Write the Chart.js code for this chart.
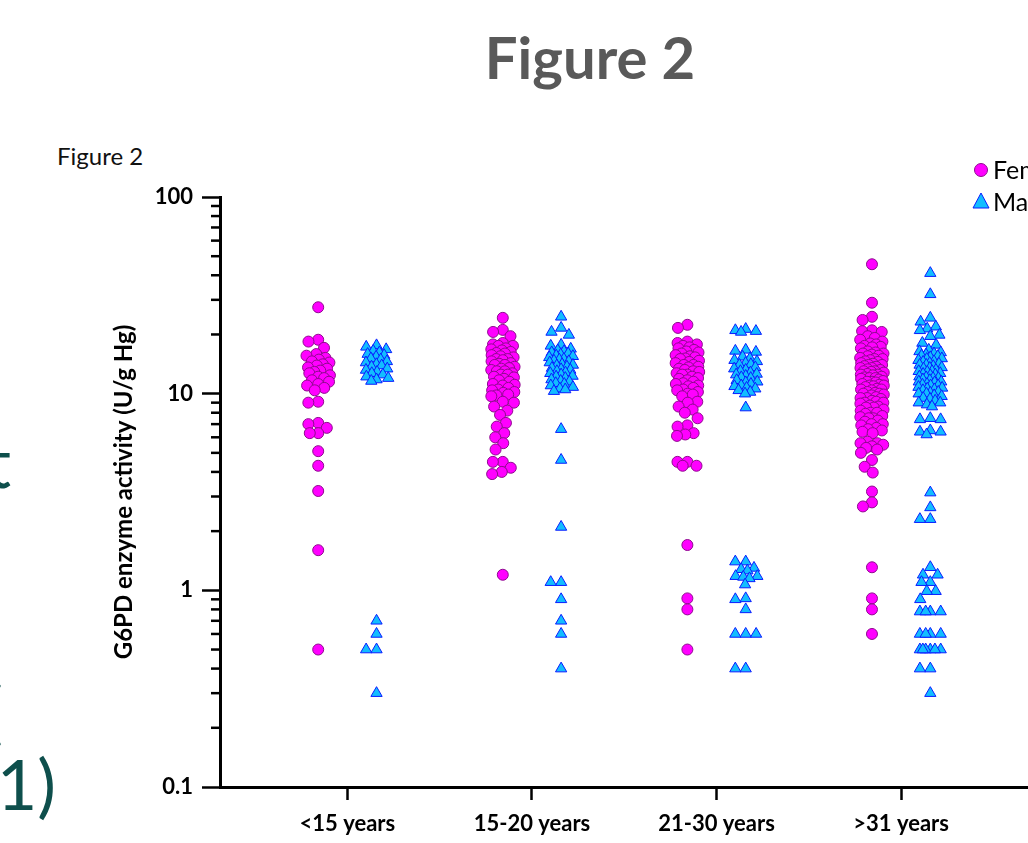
<!DOCTYPE html>
<html>
<head>
<meta charset="utf-8">
<script src="https://cdn.jsdelivr.net/npm/chart.js@4.4.1/dist/chart.umd.min.js"></script>
<style>
  html, body { margin: 0; padding: 0; overflow: hidden; background: #fff; }
  body { width: 1028px; height: 843px; position: relative; font-family: Lato, "Open Sans", sans-serif; }
  #bigTitle { position: absolute; left: 0; width: 1180px; top: 22px; text-align: center; font-size: 58px; font-weight: bold; color: #595959; }
  #smallTitle { position: absolute; left: 57px; top: 141px; font-size: 24px; color: #111; }
  .slideText { position: absolute; font-size: 70px; color: #0e4f4c; white-space: nowrap; text-align: right; line-height: 1; }
  #chartCanvas { position: absolute; left: 110px; top: 0; }
</style>
</head>
<body>
<div id="bigTitle">Figure 2</div>
<div id="smallTitle">Figure 2</div>
<div class="slideText" style="right:1017px; top:426px;">significant</div>
<div class="slideText" style="right:1025px; top:675px;">(</div>
<div class="slideText" style="right:972px; top:748px;">(p&lt;0.001)</div>
<canvas id="chartCanvas" width="950" height="843"></canvas>
<script>
// categories and values (U/g Hb, log axis)
const categories = ['<15 years', '15-20 years', '21-30 years', '>31 years'];
const yTickLabels = [0.1, 1, 10, 100];

const femaleUnder15 = [27.5, 18.8, 18.4, 17.1, 15.9, 15.6, 15.2, 14.9, 14.6, 14.4, 14.1, 13.9, 13.6, 13.4, 13.1, 12.9,
  12.7, 12.4, 12.2, 12.0, 11.7, 11.5, 11.2, 11.0, 10.7, 10.4, 9.1, 9.0, 7.1, 7.0, 6.7, 6.3, 6.3, 5.1, 4.3, 3.2, 1.6, 0.5];
const maleUnder15 = [17.6, 17.3, 16.8, 16.5, 16.2, 15.9, 15.7, 15.4, 15.1, 14.9, 14.6, 14.4, 14.1, 13.9, 13.7, 13.4,
  13.2, 12.9, 12.7, 12.5, 12.2, 12.0, 11.8, 11.6, 0.7, 0.6, 0.5, 0.5, 0.3];

const female15to20 = [24.3, 21.1, 20.6, 19.6, 18.1, 17.8, 17.5, 17.5, 17.0, 16.8, 16.6, 16.3, 16.1, 16.0, 15.7, 15.5,
  15.3, 15.0, 15.0, 14.8, 14.6, 14.3, 14.2, 14.0, 14.0, 13.7, 13.5, 13.4, 13.2, 13.0, 13.0, 12.7, 12.5, 12.5, 12.2, 12.1,
  11.9, 11.7, 11.5, 11.2, 11.1, 11.0, 10.7, 10.5, 10.4, 10.2, 10.1, 9.9, 9.8, 9.7, 9.1, 9.0, 8.6, 8.2, 7.8, 7.1, 6.8,
  6.3, 6.0, 5.6, 5.2, 4.5, 4.5, 4.2, 4.0, 3.9, 1.2];
const male15to20 = [24.6, 21.6, 20.6, 19.9, 17.7, 17.5, 16.9, 16.6, 16.4, 16.2, 16.0, 15.8, 15.6, 15.5, 15.3, 15.0,
  14.9, 14.7, 14.6, 14.4, 14.1, 14.0, 13.9, 13.7, 13.5, 13.3, 13.2, 13.0, 12.8, 12.7, 12.5, 12.3, 12.2, 12.0, 11.8,
  11.6, 11.5, 11.3, 11.2, 11.0, 10.8, 10.6, 10.5, 10.3, 6.6, 4.6, 2.1, 1.1, 1.1, 0.9, 0.7, 0.6, 0.4];

const female21to30 = [22.4, 21.6, 18.4, 18.1, 17.8, 17.5, 17.2, 17.0, 16.7, 16.4, 16.2, 16.0, 15.7, 15.5, 15.3, 15.1,
  15.0, 14.7, 14.5, 14.3, 14.0, 14.0, 13.7, 13.6, 13.4, 13.2, 13.0, 12.9, 12.7, 12.5, 12.5, 12.2, 12.0, 11.9, 11.7,
  11.5, 11.3, 11.2, 11.0, 10.9, 10.7, 10.5, 10.4, 10.2, 10.0, 9.9, 9.7, 9.1, 9.0, 8.6, 8.3, 8.0, 7.5, 6.9, 6.8, 6.3,
  6.2, 6.1, 4.5, 4.5, 4.3, 4.3, 1.7, 0.91, 0.8, 0.5];
const male21to30 = [21.3, 21.0, 20.8, 20.6, 16.7, 16.5, 16.3, 15.4, 15.1, 14.8, 14.6, 14.3, 14.1, 14.0, 13.6, 13.4,
  13.2, 13.0, 12.8, 12.6, 12.5, 12.3, 12.1, 12.0, 11.7, 11.5, 11.4, 11.2, 11.0, 10.9, 10.7, 10.6, 10.4, 10.2, 10.0,
  8.5, 1.4, 1.4, 1.3, 1.28, 1.26, 1.18, 1.18, 1.17, 1.15, 1.07, 0.91, 0.9, 0.8, 0.6, 0.6, 0.6, 0.4, 0.4];

const femaleOver31 = [45.5, 29.0, 24.6, 23.7, 21.0, 20.8, 20.6, 19.6, 19.2, 18.8, 18.4, 18.0, 17.8, 17.5, 17.3, 17.2,
  17.0, 16.4, 16.2, 16.0, 16.0, 15.8, 15.6, 15.5, 15.2, 15.0, 15.0, 14.8, 14.6, 14.5, 14.3, 14.2, 14.0, 14.0, 13.8,
  13.7, 13.5, 13.5, 13.3, 13.2, 13.0, 13.0, 12.9, 12.8, 12.6, 12.5, 12.5, 12.4, 12.2, 12.1, 12.0, 12.0, 11.9, 11.8,
  11.6, 11.5, 11.5, 11.4, 11.2, 11.1, 11.0, 11.0, 10.9, 10.8, 10.6, 10.5, 10.5, 10.4, 10.2, 10.1, 10.0, 10.0, 9.9,
  9.8, 9.6, 9.5, 9.5, 9.4, 9.2, 9.1, 9.0, 9.0, 8.9, 8.7, 8.6, 8.5, 8.5, 8.3, 8.2, 8.0, 8.0, 7.9, 7.7, 7.6, 7.5, 7.5,
  7.3, 7.2, 7.0, 7.0, 6.9, 6.7, 6.6, 6.5, 6.4, 6.3, 5.7, 5.6, 5.6, 5.5, 5.4, 5.3, 5.2, 5.0, 4.6, 4.25, 3.97, 3.18,
  2.8, 2.67, 1.31, 0.91, 0.8, 0.6];
const maleOver31 = [41.0, 32.0, 24.3, 23.2, 21.9, 21.4, 21.0, 19.9, 19.6, 18.1, 17.7, 16.7, 16.4, 16.2, 16.0, 15.8,
  15.6, 15.5, 15.3, 15.1, 15.0, 14.8, 14.6, 14.5, 14.3, 14.2, 14.0, 14.0, 13.8, 13.6, 13.5, 13.4, 13.2, 13.0, 13.0,
  12.9, 12.7, 12.6, 12.5, 12.4, 12.2, 12.1, 12.0, 12.0, 11.8, 11.7, 11.5, 11.5, 11.4, 11.2, 11.1, 11.0, 11.0, 10.8,
  10.7, 10.6, 10.5, 10.4, 10.2, 10.1, 10.0, 10.0, 9.8, 9.7, 9.5, 9.4, 9.2, 9.0, 9.0, 8.8, 8.6, 7.5, 7.4, 7.4, 6.5,
  6.4, 6.4, 6.2, 3.14, 2.64, 2.3, 2.3, 1.31, 1.2, 1.2, 1.1, 1.1, 0.99, 0.99, 0.9, 0.78, 0.78, 0.78, 0.78, 0.6, 0.6,
  0.6, 0.6, 0.5, 0.5, 0.5, 0.5, 0.5, 0.5, 0.4, 0.4, 0.3];

const femaleGroups = [femaleUnder15, female15to20, female21to30, femaleOver31];
const maleGroups = [maleUnder15, male15to20, male21to30, maleOver31];

const isDecade = v => Math.abs(Math.log10(v) - Math.round(Math.log10(v))) < 1e-6;

// small tick marks between decades on the log axis
const minorTicks = {
  id: 'minorTicks',
  afterDraw(chart) {
    const y = chart.scales.y;
    const ctx = chart.ctx;
    ctx.save();
    ctx.strokeStyle = '#000';
    ctx.lineWidth = 2.5;
    y.ticks.forEach(t => {
      if (isDecade(t.value)) return;
      const py = y.getPixelForValue(t.value);
      ctx.beginPath();
      ctx.moveTo(y.right - 9, py);
      ctx.lineTo(y.right, py);
      ctx.stroke();
    });
    ctx.restore();
  }
};

// legend in the top right corner (cut by the slide edge like the original)
const cornerLegend = {
  id: 'cornerLegend',
  afterDraw(chart) {
    const ctx = chart.ctx;
    ctx.save();
    ctx.font = '25px Lato, sans-serif';
    ctx.textBaseline = 'middle';
    const f = chart.data.datasets[0], m = chart.data.datasets[1];
    ctx.beginPath();
    ctx.arc(871, 170, 6.5, 0, Math.PI * 2);
    ctx.fillStyle = f.backgroundColor; ctx.fill();
    ctx.strokeStyle = f.borderColor; ctx.lineWidth = 1; ctx.stroke();
    ctx.beginPath();
    ctx.moveTo(871, 193); ctx.lineTo(879, 208); ctx.lineTo(863, 208); ctx.closePath();
    ctx.fillStyle = m.backgroundColor; ctx.fill();
    ctx.strokeStyle = m.borderColor; ctx.stroke();
    ctx.fillStyle = '#000';
    ctx.fillText(f.label, 883, 171);
    ctx.fillText(m.label, 883, 203);
    ctx.restore();
  }
};

const ctx = document.getElementById('chartCanvas').getContext('2d');
const chart = new Chart(ctx, {
  type: 'scatter',
  data: {
    datasets: [
      {
        label: 'Female',
        data: [],
        pointStyle: 'circle',
        pointRadius: 5.5,
        backgroundColor: '#ff00ff',
        borderColor: '#8e0a8e',
        borderWidth: 1
      },
      {
        label: 'Male',
        data: [],
        pointStyle: 'triangle',
        pointRadius: 6.5,
        backgroundColor: '#12bdff',
        borderColor: '#0a1cff',
        borderWidth: 1
      }
    ]
  },
  options: {
    responsive: false,
    animation: false,
    layout: { padding: { top: 197, right: 0, bottom: 0, left: 0 } },
    plugins: { legend: { display: false }, tooltip: { enabled: false } },
    scales: {
      x: {
        type: 'linear',
        min: 0.31,
        max: 4.82,
        afterBuildTicks: s => { s.ticks = categories.map((c, i) => ({ value: i + 1 })); },
        afterFit: s => { s.height = 56; },
        ticks: {
          autoSkip: false,
          maxRotation: 0,
          padding: 11,
          color: '#000',
          font: { family: 'Lato', size: 22, weight: 'bold' },
          callback: v => categories[v - 1]
        },
        grid: { drawOnChartArea: false, tickLength: 13, tickWidth: 2.5, tickColor: '#000' },
        border: { width: 3, color: '#000' }
      },
      y: {
        type: 'logarithmic',
        min: 0.1,
        max: 100,
        afterBuildTicks: s => {
          const t = [];
          [0.1, 1, 10].forEach(d => { for (let k = 1; k < 10; k++) t.push({ value: +(k * d).toPrecision(2) }); });
          t.push({ value: 100 });
          s.ticks = t;
        },
        afterFit: s => { s.width = 110; },
        ticks: {
          autoSkip: false,
          padding: 9,
          color: '#000',
          font: { family: 'Lato', size: 22, weight: 'bold' },
          callback: v => yTickLabels.some(l => Math.abs(l - v) < 1e-9) ? String(v) : ''
        },
        grid: {
          drawOnChartArea: false,
          tickLength: 18,
          tickWidth: 2.5,
          tickColor: c => isDecade(c.tick.value) ? '#000' : 'rgba(0,0,0,0)'
        },
        border: { width: 3, color: '#000' },
        title: {
          display: true,
          text: 'G6PD enzyme activity (U/g Hg)',
          color: '#000',
          font: { family: 'Lato', size: 24, weight: 'bold' },
          padding: { top: 0, bottom: 0 }
        }
      }
    }
  },
  plugins: [minorTicks, cornerLegend]
});

// spread equal-ish values sideways like a column scatter (computed in pixels from the scales)
function bestOffset(py, placed, d) {
  const near = placed.filter(p => Math.abs(p.y - py) < d);
  const cands = [0];
  near.forEach(p => {
    const w = Math.sqrt(d * d - (p.y - py) ** 2);
    cands.push(p.x - w, p.x + w);
  });
  cands.sort((a, b) => Math.abs(a) - Math.abs(b));
  for (const c of cands) {
    if (near.every(p => (p.x - c) ** 2 + (p.y - py) ** 2 >= d * d - 0.01)) return c;
  }
  return 0;
}

function swarm(values, center, gap, halfWidth) {
  const sx = chart.scales.x, sy = chart.scales.y;
  const cx = sx.getPixelForValue(center);
  const placed = [];
  [...values].sort((a, b) => b - a).forEach(v => {
    const py = sy.getPixelForValue(v);
    let d = gap, off = bestOffset(py, placed, d);
    while (Math.abs(off) > halfWidth) {
      d *= 0.85;
      off = bestOffset(py, placed, d);
    }
    placed.push({ x: off, y: py, v: v });
  });
  return placed.map(p => ({ x: sx.getValueForPixel(cx + p.x), y: p.v }));
}

chart.data.datasets[0].data = femaleGroups.flatMap((vals, i) => swarm(vals, i + 1 - 0.158, 10, 12));
chart.data.datasets[1].data = maleGroups.flatMap((vals, i) => swarm(vals, i + 1 + 0.158, 10.5, 12));
chart.update();
</script>
</body>
</html>
